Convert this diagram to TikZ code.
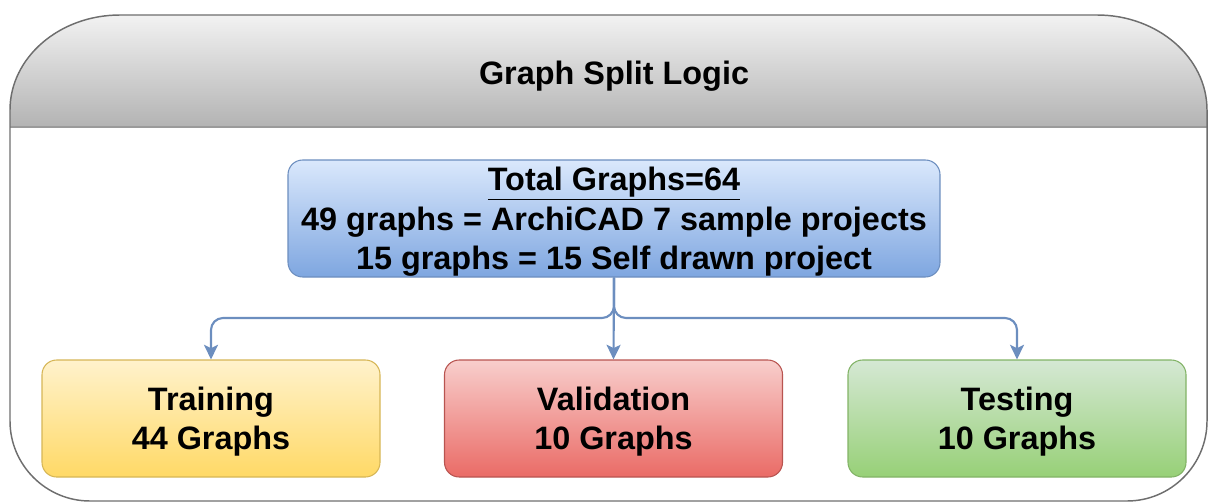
\documentclass[tikz,border=0pt]{standalone}
\usepackage{fontspec}
\setmainfont{Liberation Sans}
\usetikzlibrary{arrows.meta}

\definecolor{frameline}{HTML}{6E6E6E}
\definecolor{headline}{HTML}{9A9A9A}
\definecolor{headtop}{HTML}{F2F2F2}
\definecolor{headbot}{HTML}{B3B3B3}
\definecolor{bluetop}{HTML}{DAE8FC}
\definecolor{bluebot}{HTML}{7EA6E0}
\definecolor{blueline}{HTML}{6C8EBF}
\definecolor{yeltop}{HTML}{FFF2CC}
\definecolor{yelbot}{HTML}{FFD966}
\definecolor{yelline}{HTML}{D6B656}
\definecolor{redtop}{HTML}{F8CECC}
\definecolor{redbot}{HTML}{EA6B66}
\definecolor{redline}{HTML}{B85450}
\definecolor{grntop}{HTML}{D5E8D4}
\definecolor{grnbot}{HTML}{97D077}
\definecolor{grnline}{HTML}{82B366}

\tikzset{
  boxtext/.style={font=\bfseries\fontsize{24.3}{29.5}\selectfont, align=center,
    text=black, text depth=-2pt},
  card/.style={boxtext, rounded corners=11pt, line width=0.8pt,
    minimum height=87.75pt, inner sep=0pt},
  smallcard/.style={card, minimum width=253.5pt},
  link/.style={draw=blueline, line width=1.6pt, rounded corners=9pt,
    -{Stealth[length=11pt, width=10.5pt, inset=2.5pt]}},
}

\begin{document}
\begin{tikzpicture}[x=0.75pt, y=-0.75pt]
  \useasboundingbox (0,0) rectangle (1209,503);

  % header band with the big rounded top corners
  \shade[top color=headtop, bottom color=headbot]
    (10,127) -- (10,110) .. controls (10,57.6) and (59.3,15) .. (120,15)
    -- (1097,15) .. controls (1157.7,15) and (1207,57.6) .. (1207,110)
    -- (1207,127) -- cycle;
  \draw[headline, line width=1.6pt] (10,127) -- (1207,127);

  % outer container outline
  \draw[frameline, line width=1.1pt]
    (10,110) .. controls (10,57.6) and (59.3,15) .. (120,15)
    -- (1097,15) .. controls (1157.7,15) and (1207,57.6) .. (1207,110)
    -- (1207,421) .. controls (1207,465) and (1171,501) .. (1127,501)
    -- (90,501) .. controls (46,501) and (10,465) .. (10,421) -- cycle;

  \node[boxtext] (title) at (614,73) {Graph Split Logic};

  % source box
  \node[card, minimum width=489pt, top color=bluetop, bottom color=bluebot,
        draw=blueline] (total) at (614,218.5)
    {\underline{Total Graphs=64}\\
     49 graphs = ArchiCAD 7 sample projects\\
     15 graphs = 15 Self drawn project};

  % split targets
  \node[smallcard, top color=yeltop, bottom color=yelbot, draw=yelline]
    (train) at (211,418.5) {Training\\44 Graphs};
  \node[smallcard, top color=redtop, bottom color=redbot, draw=redline]
    (valid) at (613.5,418.5) {Validation\\10 Graphs};
  \node[smallcard, top color=grntop, bottom color=grnbot, draw=grnline]
    (test) at (1017,418.5) {Testing\\10 Graphs};

  \coordinate (split) at (614,318);

  \draw[link] (total.south) -- (total.south |- split) -| (train.north);
  \draw[link] (total.south) -- (valid.north);
  \draw[link] (total.south) -- (total.south |- split) -| (test.north);
\end{tikzpicture}
\end{document}
